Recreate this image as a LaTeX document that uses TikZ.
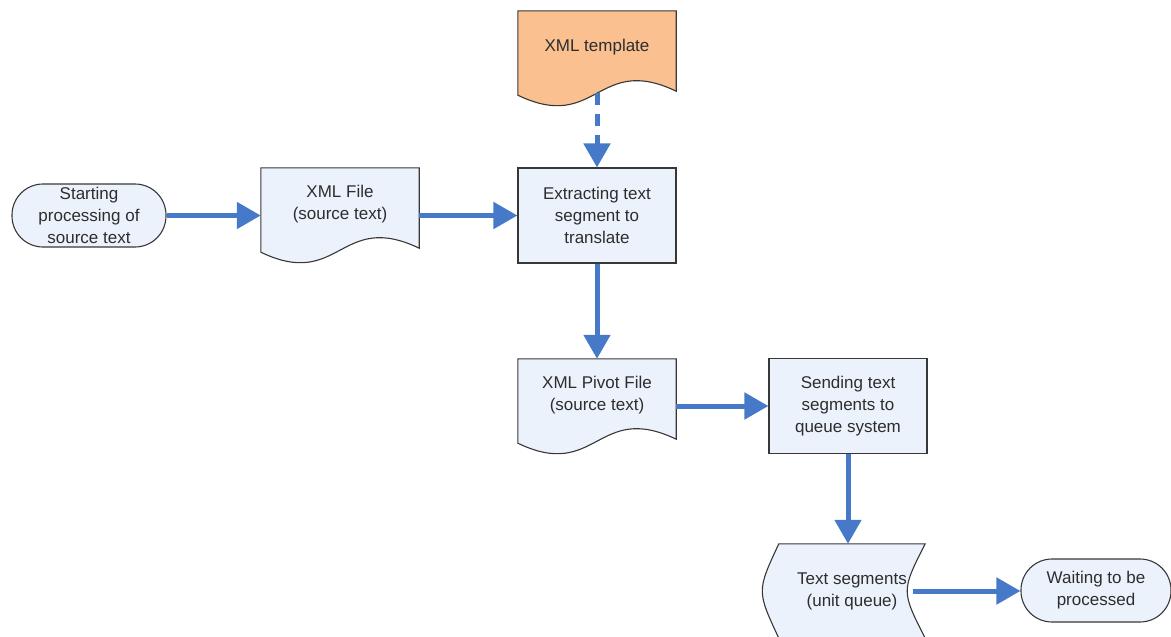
\documentclass[tikz,border=0pt]{standalone}
\usepackage{fontspec}
\setmainfont{Liberation Sans}
\usetikzlibrary{positioning, calc, arrows.meta, backgrounds}
\definecolor{flowblue}{RGB}{70,122,200}
\definecolor{boxfill}{RGB}{236,242,252}
\definecolor{tmplfill}{RGB}{250,192,143}
\definecolor{edgegray}{RGB}{55,55,55}
\definecolor{textgray}{RGB}{45,45,45}

\begin{document}
\begin{tikzpicture}[x=1pt, y=-1pt,
          font=\fontsize{17}{22}\selectfont, text=textgray,
          terminal/.style={rectangle, rounded corners=31pt, draw=edgegray, line width=1.1pt, fill=boxfill, minimum width=154pt, minimum height=63pt, align=center, inner sep=0pt},
          process/.style={rectangle, draw=edgegray, line width=1.1pt, fill=boxfill, minimum width=158pt, minimum height=95pt, align=center, inner sep=0pt},
          doc/.style={rectangle, minimum width=158pt, minimum height=72pt, align=center, inner sep=0pt},
          stored/.style={rectangle, minimum width=146pt, minimum height=94pt, align=center, inner sep=0pt},
          outline/.style={draw=edgegray, line width=1.1pt, fill=boxfill},
          arrow/.style={-{Triangle[length=24pt, width=26pt]}, draw=flowblue, line width=5pt}
        ]
        \useasboundingbox (0,0) rectangle (1171,637);
        \node[terminal] (start) at (89,215.5) {Starting\\processing of\\source text};
        \node[doc] (xmlfile) at (340,204) {XML File\\(source text)};
        \node[doc] (tmpl) at (597,47) {XML template};
        \node[process] (extract) at (597,215.5) {Extracting text\\segment to\\translate};
        \node[doc] (pivot) at (597,395) {XML Pivot File\\(source text)};
        \node[process] (send) at (848,406) {Sending text\\segments to\\queue system};
        \node[stored] (tseg) at (852,591) {Text segments\\(unit queue)};
        \node[terminal, minimum width=150pt] (wait) at (1096,590.5) {Waiting to be\\processed};
        \begin{scope}[on background layer]
          \foreach \d/\c in {xmlfile/boxfill, tmpl/tmplfill, pivot/boxfill} {
            \draw[outline, fill=\c] (\d.north west) -- (\d.north east) -- ($(\d.south east)+(0,-8pt)$)
              .. controls ($(\d.south)+(0,30pt)$) and ($(\d.south)+(0,-50pt)$) .. ($(\d.south west)+(0,-12pt)$) -- cycle;
          }
          \draw[outline] (tseg.north west) -- (tseg.north east) .. controls ($(tseg.east)+(-24pt,0)$) .. (tseg.south east)
            -- (tseg.south west) .. controls ($(tseg.west)+(-22pt,0)$) .. (tseg.north west) -- cycle;
        \end{scope}
        \draw[arrow] (start) -- (xmlfile.west |- start);
        \draw[arrow] (xmlfile.east |- extract) -- (extract);
        \draw[arrow, dash pattern=on 12pt off 9pt, shorten <=10pt] (tmpl.south) -- (extract);
        \draw[arrow] (extract) -- (pivot);
        \draw[arrow] (send -| pivot.east) -- (send);
        \draw[arrow] (send) -- (send |- tseg.north);
        \draw[arrow] ([xshift=-12pt]tseg.east) -- (tseg.east -| wait.west);
      \end{tikzpicture}
\end{document}
